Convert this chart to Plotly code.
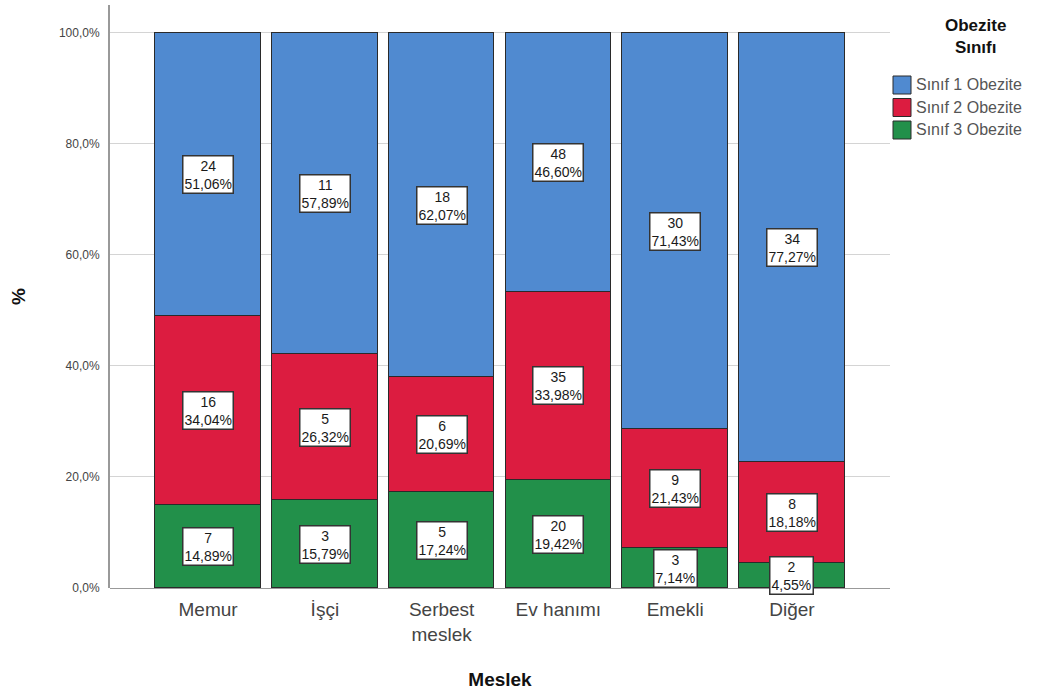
import plotly.graph_objects as go

# Occupations (x categories)
meslek = ["Memur", "İşçi", "Serbest<br>meslek", "Ev hanımı", "Emekli", "Diğer"]

# Counts per obesity class
n_sinif1 = [24, 11, 18, 48, 30, 34]
n_sinif2 = [16, 5, 6, 35, 9, 8]
n_sinif3 = [7, 3, 5, 20, 3, 2]

# Percentages within each occupation
p_sinif1 = [51.06, 57.89, 62.07, 46.60, 71.43, 77.27]
p_sinif2 = [34.04, 26.32, 20.69, 33.98, 21.43, 18.18]
p_sinif3 = [14.89, 15.79, 17.24, 19.42, 7.14, 4.55]

y_tickvals = [0, 20, 40, 60, 80, 100]
y_ticktext = ["0,0%", "20,0%", "40,0%", "60,0%", "80,0%", "100,0%"]

FONT = "Arial, Liberation Sans, sans-serif"
W, H = 1047, 697
ML, MR, MT, MB = 110, 157, 5, 109
PW, PH = W - ML - MR, H - MT - MB

series = [
    ("Sınıf 3 Obezite", p_sinif3, n_sinif3, "#22904A"),
    ("Sınıf 2 Obezite", p_sinif2, n_sinif2, "#DC1C40"),
    ("Sınıf 1 Obezite", p_sinif1, n_sinif1, "#508AD0"),
]

fig = go.Figure()
for name, pct, cnt, color in series:
    fig.add_trace(go.Bar(
        x=meslek, y=pct, name=name,
        marker=dict(color=color, line=dict(color="#2a2a2a", width=1)),
        width=0.905,
    ))

# Count / percentage boxes centred in each segment
annotations = []
base = [0.0] * len(meslek)
for name, pct, cnt, color in series:
    for i, cat in enumerate(meslek):
        mid = base[i] + pct[i] / 2
        annotations.append(dict(
            x=cat, y=mid, xref="x", yref="y", showarrow=False,
            text=f"{cnt[i]}<br>{pct[i]:.2f}%".replace(".", ","),
            font=dict(family=FONT, size=14, color="#1a1a1a"),
            bgcolor="white", bordercolor="#333333", borderwidth=1.5, borderpad=1,
        ))
        base[i] += pct[i]


def px_x(px):
    return (px - ML) / PW


def px_y(py):
    return (H - MB - py) / PH


# Legend drawn in paper space: centred title, square swatches, labels
shapes = []
annotations.append(dict(
    x=px_x(975), y=px_y(36), xref="paper", yref="paper", showarrow=False,
    xanchor="center", yanchor="middle",
    text="<b>Obezite<br>Sınıfı</b>", font=dict(family=FONT, size=17, color="#111111"),
))
for k, (name, pct, cnt, color) in enumerate(reversed(series)):
    cy = 85 + k * 22.5
    shapes.append(dict(
        type="rect", xref="paper", yref="paper",
        x0=px_x(893), x1=px_x(911), y0=px_y(cy - 9), y1=px_y(cy + 9),
        fillcolor=color, line=dict(color="#2a2a2a", width=1),
    ))
    annotations.append(dict(
        x=px_x(914), y=px_y(cy), xref="paper", yref="paper", showarrow=False,
        xanchor="left", yanchor="middle",
        text=name, font=dict(family=FONT, size=16, color="#555555"),
    ))

fig.update_layout(
    width=W, height=H,
    margin=dict(l=ML, r=MR, t=MT, b=MB),
    paper_bgcolor="white", plot_bgcolor="white",
    barmode="stack", bargap=0,
    font=dict(family=FONT, color="#333333"),
    annotations=annotations,
    shapes=shapes,
    showlegend=False,
    xaxis=dict(
        range=[-0.84, 5.84], showgrid=False,
        tickfont=dict(size=19, color="#444444"), ticks="",
        showline=False, ticklabelstandoff=8,
        title=dict(text="<b>Meslek</b>", font=dict(size=19, color="#111111"), standoff=28),
    ),
    yaxis=dict(
        range=[0, 105], tickvals=y_tickvals, ticktext=y_ticktext,
        tickfont=dict(size=12, color="#444444"),
        showgrid=True, gridcolor="#D4D4D4", gridwidth=1,
        showline=True, linecolor="#999999", linewidth=2,
        zeroline=True, zerolinecolor="#999999", zerolinewidth=1,
        ticks="", ticklabelstandoff=6,
        title=dict(text="<b>%</b>", font=dict(size=19, color="#111111"), standoff=28),
    ),
)

fig.write_html("out.html")
